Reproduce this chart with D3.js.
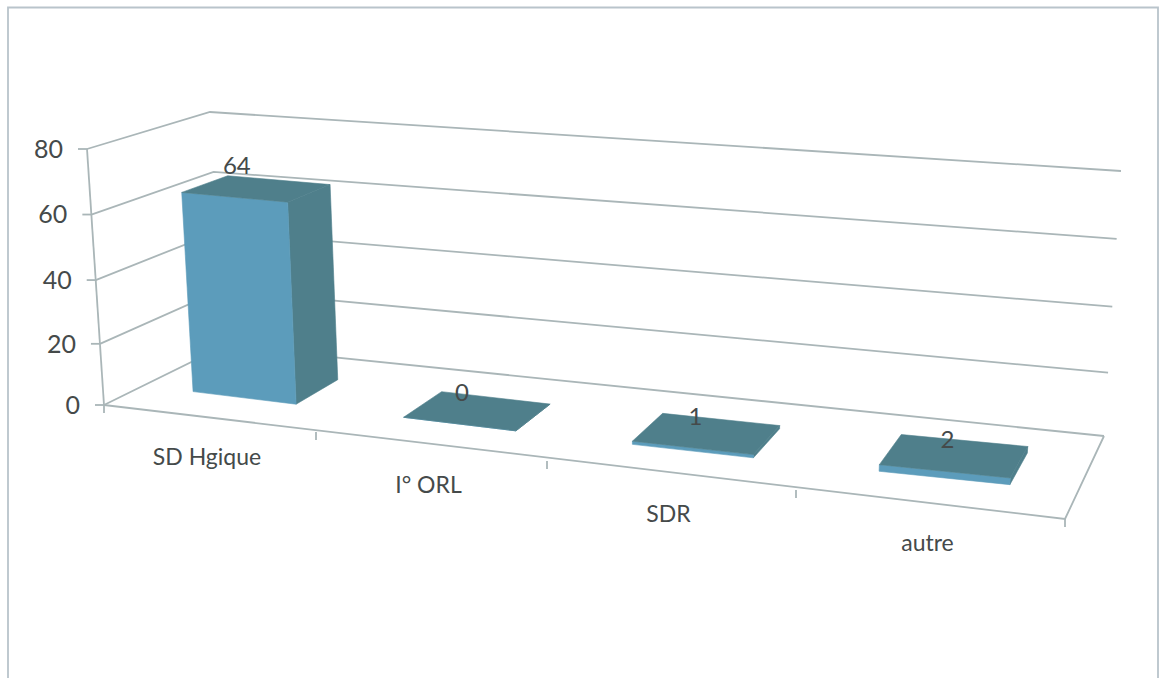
<!DOCTYPE html>
<html>
<head>
<meta charset="utf-8">
<script src="https://cdn.jsdelivr.net/npm/d3@7"></script>
<style>
  html, body { margin: 0; padding: 0; background: #fff; }
  text { font-family: Lato, "Open Sans", sans-serif; fill: #454a4a; }
</style>
</head>
<body>
<svg id="chart" width="1160" height="678"></svg>
<script>
// Chart content
const categories = ["SD Hgique", "I° ORL", "SDR", "autre"];
const values = [64, 0, 1, 2];
const yTicks = [0, 20, 40, 60, 80];

const svg = d3.select("#chart");
const W = 1160, H = 678;

// Perspective floor: front edge positions per category boundary
const boundaries = d3.range(categories.length + 1);
const frontX = d3.scaleLinear().domain(boundaries).range([104, 316, 547, 796, 1065]);
const frontY = d3.scaleLinear().domain(boundaries).range([405, 432, 461, 490, 519]);
// Share of the floor width, running from left wall to right wall
const across = d3.scaleLinear().domain([104, 1065]).range([0, 1]);
// Depth vector from front edge to back wall
const depthX = d3.scaleLinear().domain([0, 1]).range([120, 39]);
const depthY = d3.scaleLinear().domain([0, 1]).range([-59, -83]);
// Vertical axis: unevenly spaced because of the foreshortening
const level = d3.scaleLinear().domain(yTicks).range([0, 0.239, 0.488, 0.744, 1]);
// Lift of the full axis height at the front and the back of the floor
const liftFront = d3.scaleLinear().domain([0, 1]).range([-256, -290]);
const liftBack = d3.scaleLinear().domain([0, 1]).range([-234, -265]);
const leanFront = d3.scaleLinear().domain([0, 1]).range([-17, 17]);
const leanBack = d3.scaleLinear().domain([0, 1]).range([-14, 17]);

// Maps category position u, depth d (0 front, 1 back) and value v to the page
function project(u, d, v) {
  const s = across(frontX(u));
  const f = level(v);
  const lift = d3.interpolateNumber(liftFront(s), liftBack(s))(d);
  const lean = d3.interpolateNumber(leanFront(s), leanBack(s))(d);
  return [
    frontX(u) + d * depthX(s) + f * lean,
    frontY(u) + d * depthY(s) + f * lift
  ];
}

const maxU = categories.length;
const lineColor = "#aab6b8";
const pathOf = pts => "M" + pts.map(p => p.join(",")).join("L");

// Page frame, open at the bottom
svg.append("path")
  .attr("d", `M8,${H}V7.5H1158V${H}`)
  .attr("fill", "none")
  .attr("stroke", "#b9c4cb")
  .attr("stroke-width", 1.8);

// Gridlines across the left wall and the back wall
const walls = svg.append("g").attr("fill", "none").attr("stroke", lineColor).attr("stroke-width", 1.8);
walls.selectAll("path.grid")
  .data(yTicks)
  .join("path")
  .attr("class", "grid")
  .attr("d", v => pathOf([project(0, 0, v), project(0, 1, v), project(maxU, 1, v)]));

// Vertical axis, floor edges and tick marks
walls.append("path").attr("d", pathOf([project(0, 0, 80), project(0, 0, 0)]));
walls.append("path").attr("d", pathOf([project(0, 0, 0), project(maxU, 0, 0), project(maxU, 1, 0)]));
walls.selectAll("path.ytick")
  .data(yTicks)
  .join("path")
  .attr("class", "ytick")
  .attr("d", v => { const [x, y] = project(0, 0, v); return `M${x - 9},${y}H${x}`; });
walls.selectAll("path.xtick")
  .data(boundaries)
  .join("path")
  .attr("class", "xtick")
  .attr("d", u => { const [x, y] = project(u, 0, 0); return `M${x},${y}v8`; });

// Value axis labels
svg.selectAll("text.ylab")
  .data(yTicks)
  .join("text")
  .attr("class", "ylab")
  .attr("x", v => project(0, 0, v)[0] - 24)
  .attr("y", v => project(0, 0, v)[1])
  .attr("dy", "0.35em")
  .attr("text-anchor", "end")
  .attr("font-size", 25)
  .text(d => d);

// Category labels
svg.selectAll("text.xlab")
  .data(categories)
  .join("text")
  .attr("class", "xlab")
  .attr("x", (c, i) => project(i + 0.5, 0, 0)[0] - 3)
  .attr("y", (c, i) => project(i + 0.5, 0, 0)[1] + 38)
  .attr("dy", "0.35em")
  .attr("text-anchor", "middle")
  .attr("font-size", 23)
  .text(d => d);

// Bars: each a box standing on the floor
const band = [0.24, 0.74];
const depthBand = [0.33, 0.72];
const front = "#5c9cbb", dark = "#4f7f8b";

const bars = svg.append("g").selectAll("g")
  .data(values)
  .join("g")
  .attr("stroke-width", 0.6)
  .attr("stroke-linejoin", "round");

function face(i, v, corners) {
  return pathOf(corners.map(([t, d, top]) =>
    project(i + band[t], depthBand[d], top ? v : 0))) + "Z";
}

// Right side face
bars.append("path")
  .attr("fill", dark)
  .attr("stroke", dark)
  .attr("d", (v, i) => face(i, v, [[1, 0, 0], [1, 1, 0], [1, 1, 1], [1, 0, 1]]));
// Front face
bars.append("path")
  .attr("fill", front)
  .attr("stroke", front)
  .attr("d", (v, i) => face(i, v, [[0, 0, 0], [1, 0, 0], [1, 0, 1], [0, 0, 1]]));
// Top face
bars.append("path")
  .attr("fill", dark)
  .attr("stroke", dark)
  .attr("d", (v, i) => face(i, v, [[0, 0, 1], [1, 0, 1], [1, 1, 1], [0, 1, 1]]));

// Value labels above each bar's front edge
svg.selectAll("text.val")
  .data(values)
  .join("text")
  .attr("class", "val")
  .attr("x", (v, i) => project(i + 0.5, depthBand[0], v)[0])
  .attr("y", (v, i) => project(i + 0.5, depthBand[0], v)[1] - 32)
  .attr("dy", "0.35em")
  .attr("text-anchor", "middle")
  .attr("font-size", 24)
  .text(d => d);
</script>
</body>
</html>
